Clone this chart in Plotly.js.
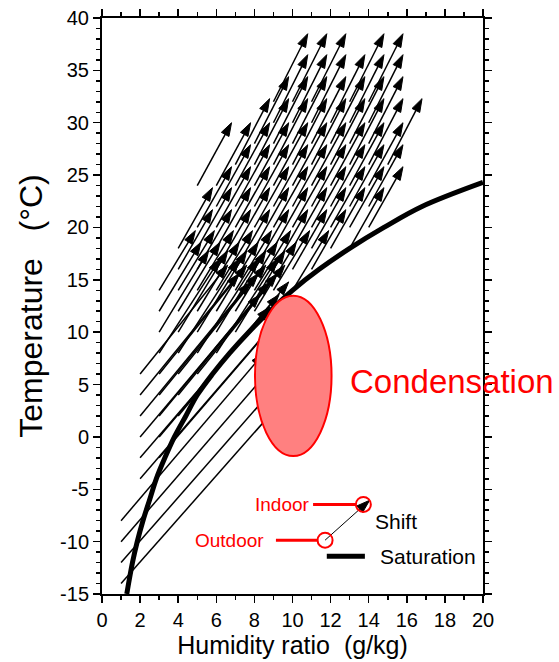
<!DOCTYPE html>
<html><head><meta charset="utf-8">
<script src="https://cdn.plot.ly/plotly-3.0.1.min.js"></script>
<style>html,body{margin:0;padding:0;background:#fff}</style>
</head><body><div id="chart" style="width:559px;height:662px"></div>
<script>
// Outdoor states (tails): temperature rows and humidity ratios in each row
const outdoorT = [32,30,28,26,24,22,20,18,16,14,12,10,8,6,4,2,0,-2,-4,-8,-10,-12,-14];
const outdoorW = [
 [9,10,11,13,14],
 [9,10,11,12,13,14],
 [8,9,10,11,12,13,14],
 [7,8,9,10,11,12,13,14,15],
 [5,6,7,8,9,10,11,12,13,14],
 [6,7,8,9,10,11,12,13,14],
 [5,6,7,8,9,10,11,12,13,14],
 [4,5,6,7,8,9,10,11,12,13],
 [4,5,6,7,8,9,10,11],
 [3,4,5,6,7,8,9,10],
 [3,4,5,6,7,8],
 [3,4,5,6,7],
 [3,4,5,6],
 [2,3,4,5],
 [2,3,4],
 [2,3,4],
 [2,3],
 [2,3],
 [2],
 [1],[1],[1],[1]
];
// Indoor states (heads): indoor temperature per row and moisture gain (g/kg)
const indoorT = [38.5,36.5,34.4,32.3,30.0,27.9,25.8,23.8,21.7,19.7,18.6,17.8,17.0,16.4,15.6,14.8,13.6,12.4,11.2,8.0,6.4,4.8,3.3];
const moistureGain = [1.8,1.8,1.8,1.8,1.8,1.8,1.8,1.8,1.8,1.9,2.2,2.6,3.2,4.6,5.2,5.8,6.3,6.8,7.2,7.5,7.8,8.1,8.4];

// Saturation curve
const satT = [-15,-12,-10,-8,-6,-4,-2,0,2,4,6,8,10,12,14,16,18,20,22,24.3];
const satW = [1.3,1.6,1.85,2.15,2.5,2.85,3.3,3.8,4.4,5.0,5.8,6.7,7.7,8.8,10.0,11.4,13.0,14.8,16.8,20.0];

// Tick labels
const xTicks = [0,2,4,6,8,10,12,14,16,18,20];
const xTickText = ['0','2','4','6','8','10','12','14','16','18','20'];
const yTicks = [-15,-10,-5,0,5,10,15,20,25,30,35,40];
const yTickText = ['-15','-10','-5','0','5','10','15','20','25','30','35','40'];

// Legend sample points
const legendOutdoor = {w: 11.71, T: -9.86};
const legendIndoor = {w: 13.72, T: -6.45};

const ax = [], ay = [], asz = [];
outdoorT.forEach((t, i) => {
  outdoorW[i].forEach(w => {
    ax.push(w, +(w + moistureGain[i]).toFixed(2), null);
    ay.push(t, indoorT[i], null);
    asz.push(0, 14, 0);
  });
});

const FONT = 'Liberation Sans, Arial, Helvetica, sans-serif';

const traces = [
  {type:'scatter', mode:'lines+markers', x: ax, y: ay, connectgaps:false,
   line:{color:'#000000', width:1.5},
   marker:{symbol:'arrow', size: asz, angleref:'previous', color:'#000000', opacity:1,
           line:{color:'#000000', width:1}},
   opacity:1, hoverinfo:'skip', showlegend:false},
  {type:'scatter', mode:'lines', x: satW, y: satT, line:{color:'black', width:5, shape:'spline'},
   hoverinfo:'skip', showlegend:false},
  {type:'scatter', mode:'lines', x:[11.8,13.8], y:[-11.4,-11.4], line:{color:'black', width:5},
   hoverinfo:'skip', showlegend:false},
  {type:'scatter', mode:'lines', x:[11.08,13.33], y:[legendIndoor.T, legendIndoor.T], line:{color:'red', width:3},
   hoverinfo:'skip', showlegend:false},
  {type:'scatter', mode:'lines', x:[9.13,11.3], y:[legendOutdoor.T, legendOutdoor.T], line:{color:'red', width:3},
   hoverinfo:'skip', showlegend:false},
  {type:'scatter', mode:'lines+markers', x:[legendOutdoor.w, 14.05], y:[legendOutdoor.T, -6.05],
   line:{color:'black', width:1}, marker:{symbol:'arrow', size:[0,14], angleref:'previous', color:'#000000', opacity:1,
   line:{color:'#000000', width:1}},
   hoverinfo:'skip', showlegend:false},
  {type:'scatter', mode:'markers', x:[legendIndoor.w, legendOutdoor.w], y:[legendIndoor.T, legendOutdoor.T],
   marker:{symbol:'circle-open', size:15, color:'red', line:{color:'red', width:2}},
   hoverinfo:'skip', showlegend:false}
];

const axisCommon = {
  showline:true, linecolor:'black', linewidth:2, mirror:'allticks',
  ticks:'outside', ticklen:7, tickwidth:1.5, tickcolor:'black',
  showgrid:false, zeroline:false, tickmode:'array',
  tickfont:{family:FONT, size:20, color:'black'}
};

const layout = {
  width:559, height:662,
  margin:{l:102, r:76, t:18, b:68},
  paper_bgcolor:'white', plot_bgcolor:'white',
  font:{family:FONT, color:'black'},
  showlegend:false,
  xaxis: Object.assign({}, axisCommon, {
    range:[0,20], tickvals:xTicks, ticktext:xTickText,
    minor:{dtick:1, ticks:'outside', ticklen:4, tickwidth:1.5, tickcolor:'black'},
    title:{text:'Humidity ratio\u00a0 (g/kg)', font:{family:FONT, size:25, color:'black'}, standoff:2}
  }),
  yaxis: Object.assign({}, axisCommon, {
    range:[-15,40], tickvals:yTicks, ticktext:yTickText,
    minor:{dtick:1, ticks:'outside', ticklen:4, tickwidth:1.5, tickcolor:'black'},
    title:{text:'Temperature\u00a0\u00a0 (°C)', font:{family:FONT, size:32, color:'black'}, standoff:8}
  }),
  shapes:[
    {type:'circle', xref:'x', yref:'y', x0:8.03, x1:12.05, y0:-1.83, y1:13.49,
     fillcolor:'#ff8080', line:{color:'red', width:2}, layer:'above'}
  ],
  annotations:[
    {x:12.9, y:5.3, xref:'x', yref:'y', text:'Condensation', showarrow:false, xanchor:'left', yanchor:'middle',
     font:{family:FONT, size:33, color:'red'}},
    {x:11.0, y:legendIndoor.T, xref:'x', yref:'y', text:'Indoor', showarrow:false, xanchor:'right', yanchor:'middle',
     font:{family:FONT, size:19, color:'red'}},
    {x:8.6, y:legendOutdoor.T, xref:'x', yref:'y', text:'Outdoor', showarrow:false, xanchor:'right', yanchor:'middle',
     font:{family:FONT, size:19, color:'red'}},
    {x:14.2, y:-8.1, xref:'x', yref:'y', text:'Shift', showarrow:false, xanchor:'left', yanchor:'middle',
     font:{family:FONT, size:21, color:'black'}},
    {x:14.5, y:-11.4, xref:'x', yref:'y', text:'Saturation', showarrow:false, xanchor:'left', yanchor:'middle',
     font:{family:FONT, size:21, color:'black'}}
  ]
};

Plotly.newPlot('chart', traces, layout, {staticPlot:true, displayModeBar:false});
</script>
</body></html>
